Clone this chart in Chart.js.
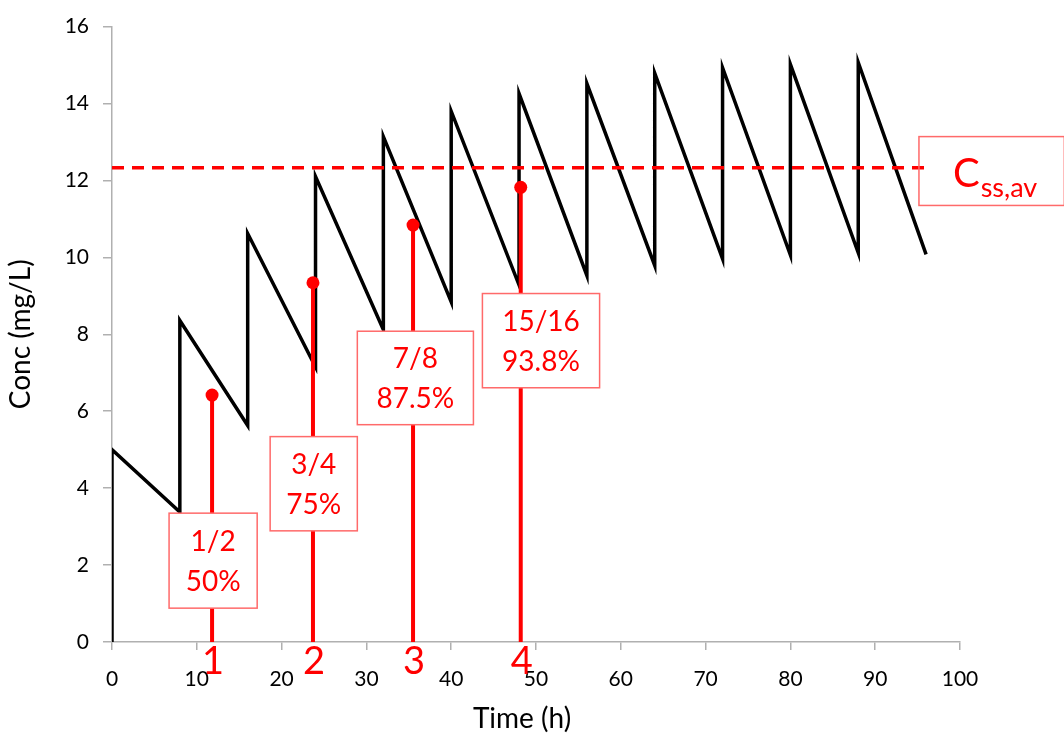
<!DOCTYPE html>
<html>
<head>
<meta charset="utf-8">
<script src="https://cdn.jsdelivr.net/npm/chart.js@4/dist/chart.umd.min.js"></script>
<style>
html,body{margin:0;padding:0;background:#fff;}
#wrap{width:1064px;height:738px;position:relative;}
</style>
</head>
<body>
<div id="wrap"><canvas id="c" width="1064" height="738"></canvas></div>
<script>
// ---- data ----
const curveTime = [0,0,8,8,16,16,24,24,32,32,40,40,48,48,56,56,64,64,72,72,80,80,88,88,96];
const curveConc = [0,5,3.38,8.36,5.63,10.62,7.15,12.1,8.12,13.14,8.84,13.8,9.28,14.26,9.53,14.52,9.79,14.79,9.96,14.93,10.06,15.02,10.12,15.07,10.08];
const markerTime = [11.8, 23.7, 35.5, 48.2];
const markerConc = [6.42, 9.34, 10.84, 11.82];
const markerLabels = ['1','2','3','4'];
const fractionLabels = ['1/2','3/4','7/8','15/16'];
const percentLabels = ['50%','75%','87.5%','93.8%'];
const cssAvValue = 12.33;
const cssAvSpan = [0, 96.3];
const xTicks = [0,10,20,30,40,50,60,70,80,90,100];
const yTicks = [0,2,4,6,8,10,12,14,16];

const RED = '#FF0000';
const FONT = 'Lato, "Open Sans", sans-serif';

const datasets = [];
datasets.push({
  label: 'Css,av',
  data: cssAvSpan.map(t => ({x: t, y: cssAvValue})),
  borderColor: RED, borderWidth: 3.5, borderDash: [12, 8],
  pointRadius: 0, showLine: true, order: 0
});
markerTime.forEach((t, i) => {
  datasets.push({
    label: 'stem' + markerLabels[i],
    data: [{x: t, y: 0}, {x: t, y: markerConc[i]}],
    borderColor: RED, backgroundColor: RED, borderWidth: 4,
    pointRadius: [0, 6.5], pointBorderWidth: 0, showLine: true, order: 1
  });
});
datasets.push({
  label: 'Conc',
  data: curveTime.map((t, i) => ({x: t, y: curveConc[i]})),
  borderColor: '#000', borderWidth: 3.5, pointRadius: 0, showLine: true,
  order: 2, borderJoinStyle: 'miter'
});

// box layout (in axis units)
const boxLayout = [
  {x0: 6.73, x1: 17.12, y0: 3.35, y1: 0.88},
  {x0: 18.65, x1: 28.93, y0: 5.34, y1: 2.89},
  {x0: 28.93, x1: 42.62, y0: 8.08, y1: 5.65},
  {x0: 43.68, x1: 57.5, y0: 9.06, y1: 6.61}
];
const cssBox = {x0: 95.16, x1: 112.3, y0: 13.14, y1: 11.35};

const annot = {
  id: 'annot',
  afterDatasetsDraw(chart) {
    const ctx = chart.ctx, xs = chart.scales.x, ys = chart.scales.y;
    ctx.save();
    boxLayout.forEach((b, i) => {
      const l = xs.getPixelForValue(b.x0), r = xs.getPixelForValue(b.x1);
      const t = ys.getPixelForValue(b.y0), bt = ys.getPixelForValue(b.y1);
      ctx.fillStyle = '#fff';
      ctx.fillRect(l, t, r - l, bt - t);
      ctx.strokeStyle = '#FF6A6A'; ctx.lineWidth = 1.5;
      ctx.strokeRect(l, t, r - l, bt - t);
      ctx.fillStyle = RED; ctx.font = '28px ' + FONT;
      ctx.textAlign = 'center'; ctx.textBaseline = 'middle';
      const cx = (l + r) / 2, cy = (t + bt) / 2;
      ctx.fillText(fractionLabels[i], cx, cy - 19);
      ctx.fillText(percentLabels[i], cx, cy + 21);
    });
    ctx.font = '38px ' + FONT; ctx.fillStyle = RED;
    ctx.textAlign = 'center'; ctx.textBaseline = 'middle';
    markerTime.forEach((t, i) => {
      ctx.fillText(markerLabels[i], xs.getPixelForValue(t) + 1, ys.getPixelForValue(0) + 20);
    });
    const l = xs.getPixelForValue(cssBox.x0), r = xs.getPixelForValue(cssBox.x1);
    const t = ys.getPixelForValue(cssBox.y0), bt = ys.getPixelForValue(cssBox.y1);
    ctx.strokeStyle = '#FF6A6A'; ctx.lineWidth = 1.5;
    ctx.strokeRect(l, t, r - l, bt - t);
    ctx.fillStyle = RED; ctx.textAlign = 'left'; ctx.textBaseline = 'alphabetic';
    ctx.font = '40px ' + FONT;
    ctx.fillText('C', l + 34, t + 50);
    const cw = ctx.measureText('C').width;
    ctx.font = '27px ' + FONT;
    ctx.fillText('ss,av', l + 34 + cw + 1, t + 60);
    ctx.fillStyle = '#000'; ctx.font = '28px ' + FONT;
    ctx.textAlign = 'center'; ctx.textBaseline = 'middle';
    ctx.fillText('Time (h)', (chart.chartArea.left + chart.chartArea.right) / 2 - 14, 719);
    ctx.restore();
  }
};

new Chart(document.getElementById('c'), {
  type: 'scatter',
  data: {datasets},
  plugins: [annot],
  options: {
    responsive: false, animation: false,
    layout: {padding: {top: 22, right: 104, left: 0, bottom: 0}},
    plugins: {legend: {display: false}, tooltip: {enabled: false}},
    scales: {
      x: {
        type: 'linear', min: 0, max: 100,
        afterBuildTicks: s => { s.ticks = xTicks.map(v => ({value: v})); },
        afterFit: s => { s.height = 96; },
        grid: {drawOnChartArea: false, drawTicks: true, tickLength: 8, color: '#b0b0b0', lineWidth: 1.5},
        border: {color: '#b0b0b0', width: 1.5},
        ticks: {color: '#000', font: {family: FONT, size: 21}, padding: 17, maxRotation: 0}
      },
      y: {
        type: 'linear', min: 0, max: 16,
        afterBuildTicks: s => { s.ticks = yTicks.map(v => ({value: v})); },
        afterFit: s => { s.width = 112; },
        grid: {drawOnChartArea: false, drawTicks: true, tickLength: 9, color: '#b0b0b0', lineWidth: 1.5},
        border: {color: '#b0b0b0', width: 1.5},
        ticks: {color: '#000', font: {family: FONT, size: 21}, padding: 14},
        title: {display: true, text: 'Conc (mg/L)', color: '#000', font: {family: FONT, size: 28}, padding: {top: 4, bottom: 4}}
      }
    }
  }
});
</script>
</body>
</html>
